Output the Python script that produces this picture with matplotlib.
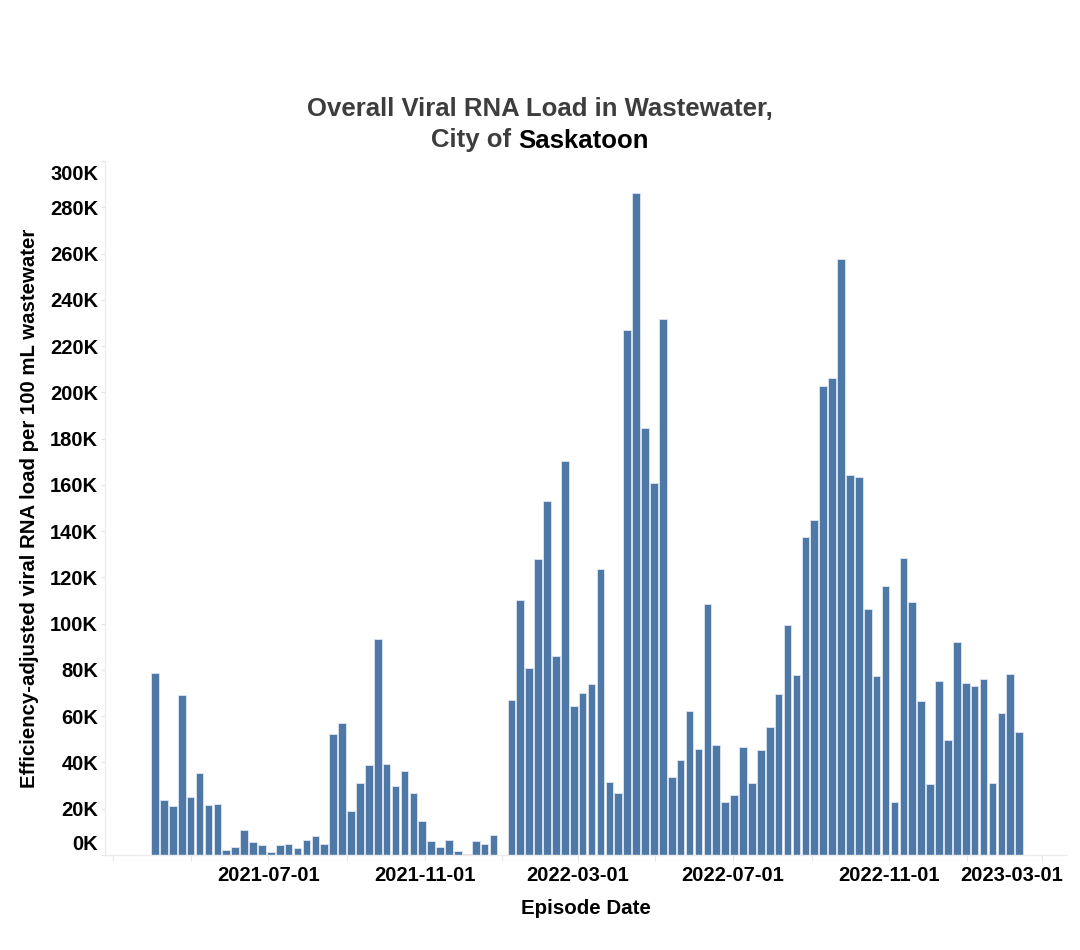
import matplotlib
matplotlib.use("Agg")
import matplotlib.pyplot as plt
import matplotlib.transforms as mtrans
import numpy as np
import pandas as pd

# ---- data (values in thousands) ----
week_start = "2021-04-03"
n_weeks = 98
values_k = [78.7, 23.8, 21.0, 69.2, 25.2, 35.5, 21.5, 22.1, 2.0, 3.3,
            10.8, 5.6, 4.3, 1.4, 4.3, 4.8, 2.9, 6.6, 8.1, 4.8,
            52.4, 57.1, 19.2, 31.3, 39.0, 93.5, 39.4, 30.0, 36.1, 26.8,
            14.7, 6.2, 3.3, 6.6, 1.6, 0.6, 6.2, 4.8, 8.5, None,
            67.0, 110.1, 80.7, 127.8, 153.2, 85.9, 170.3, 64.2, 70.2, 74.1,
            123.6, 31.6, 26.8, 227.0, 286.0, 184.4, 160.6, 231.7, 33.8, 40.9,
            62.4, 45.9, 108.7, 47.5, 23.1, 25.8, 46.5, 31.0, 45.5, 55.5,
            69.5, 99.5, 77.7, 137.4, 145.0, 202.9, 206.1, 257.5, 164.1, 163.6,
            106.2, 77.2, 116.4, 23.0, 128.4, 109.5, 66.4, 30.6, 75.2, 49.6,
            92.2, 74.4, 72.9, 76.1, 31.1, 61.3, 78.1, 53.3]
y_ticks = [0, 20000, 40000, 60000, 80000, 100000, 120000, 140000, 160000,
           180000, 200000, 220000, 240000, 260000, 280000, 300000]
y_tick_labels = ["0K", "20K", "40K", "60K", "80K", "100K", "120K", "140K", "160K",
                 "180K", "200K", "220K", "240K", "260K", "280K", "300K"]
x_label_dates = ["2021-07-01", "2021-11-01", "2022-03-01", "2022-07-01",
                 "2022-11-01", "2023-03-01"]
x_minor_dates = ["2021-03-01", "2021-05-01", "2021-09-01", "2022-01-01",
                 "2022-05-01", "2022-09-01", "2023-01-01"]
x_range = ("2021-02-22 17:00", "2023-03-20 14:00")

title_line1 = "Overall Viral RNA Load in Wastewater,"
title_line2a = "City of "
title_line2b = "Saskatoon"
y_title = "Efficiency-adjusted viral RNA load per 100 mL wastewater"
x_title = "Episode Date"

# ---- build ----
dates = pd.date_range(week_start, periods=n_weeks, freq="7D")
df = pd.DataFrame({"date": dates,
                   "value": [np.nan if v is None else v * 1000 for v in values_k]})
df = df.dropna()

plt.rcParams['font.family'] = ['Liberation Sans', 'DejaVu Sans']

TICK_FS = 14.5
fig = plt.figure(figsize=(10.8, 9.5), dpi=100)
ax = fig.add_axes([105 / 1080, 95 / 950, (1067 - 105) / 1080, (855 - 161) / 950])

ax.bar(df["date"], df["value"], width=6.0, color="#4e79a7",
       edgecolor="#dfe7f0", linewidth=0.6, zorder=2)

ax.set_xlim(pd.Timestamp(x_range[0]), pd.Timestamp(x_range[1]))
ax.set_ylim(0, 300000)

# y axis
ax.set_yticks(y_ticks)
ax.set_yticklabels(y_tick_labels, fontsize=TICK_FS, fontweight="bold", color="black")
ax.tick_params(axis="y", length=3, width=0.8, color="#dce6f0", pad=2)

# x axis
ax.set_xticks([pd.Timestamp(d) for d in x_label_dates])
ax.set_xticklabels(x_label_dates, fontsize=TICK_FS, fontweight="bold", color="black")
ax.set_xticks([pd.Timestamp(d) for d in x_minor_dates], minor=True)
ax.tick_params(axis="x", which="both", length=4, width=0.8, color="#e4e4e4", pad=4)

for s in ["top", "right"]:
    ax.spines[s].set_visible(False)
for s in ["left", "bottom"]:
    ax.spines[s].set_color("#ececec")
    ax.spines[s].set_linewidth(1.0)

ax.set_ylabel(y_title, fontsize=14.7, fontweight="bold", color="black", labelpad=8)
ax.set_xlabel(x_title, fontsize=14.8, fontweight="bold", color="black", labelpad=10)

fig.canvas.draw()
dpi_tr = fig.dpi_scale_trans
xl = ax.get_xticklabels()
xl[-1].set_transform(xl[-1].get_transform() + mtrans.ScaledTranslation(-30 / 100, 0, dpi_tr))
yl = ax.get_yticklabels()
yl[0].set_transform(yl[0].get_transform() + mtrans.ScaledTranslation(0, 13 / 100, dpi_tr))
yl[-1].set_transform(yl[-1].get_transform() + mtrans.ScaledTranslation(0, -12 / 100, dpi_tr))

# title
TITLE_FS = 18.5
fig.text(540 / 1080, 1 - 109 / 950, title_line1, ha="center", va="center",
         fontsize=TITLE_FS, fontweight="bold", color="#3d3d3d")
renderer = fig.canvas.get_renderer()
t_a = fig.text(0, 1 - 138 / 950, title_line2a, ha="left", va="center_baseline",
               fontsize=TITLE_FS, fontweight="bold", color="#3d3d3d")
t_b = fig.text(0, 1 - 138 / 950, title_line2b, ha="left", va="center_baseline",
               fontsize=TITLE_FS, fontweight="bold", color="#000000")
wa = t_a.get_window_extent(renderer).width
wb = t_b.get_window_extent(renderer).width
total = wa + wb
x0 = 540 - total / 2
t_a.set_x(x0 / 1080)
t_b.set_x((x0 + wa) / 1080)

fig.savefig("out.png", dpi=100)
